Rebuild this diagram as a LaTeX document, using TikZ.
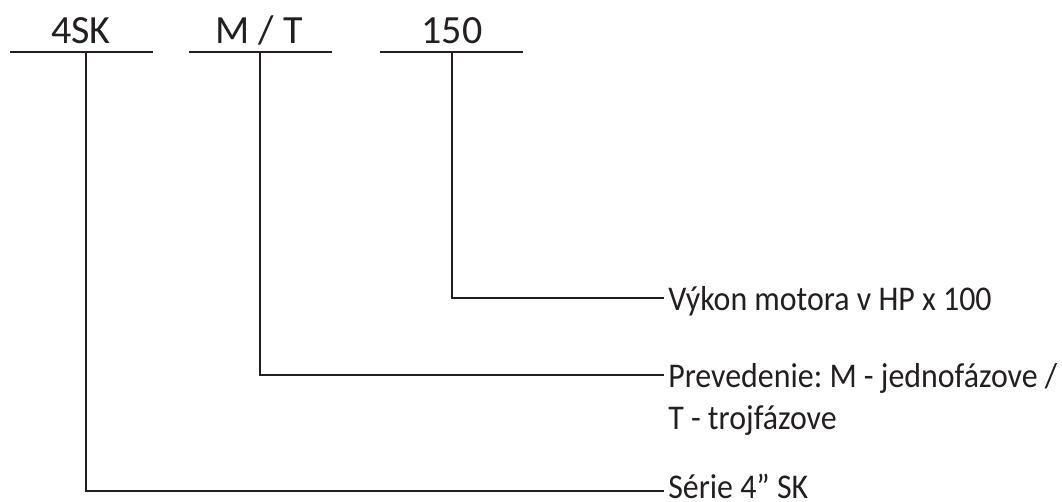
\documentclass[tikz,border=0pt]{standalone}
\usepackage{fontspec}
\setmainfont{Carlito}
\newfontfamily\descfont[FakeStretch=0.92]{Carlito}
\definecolor{ink}{HTML}{231F20}

\tikzset{
  code/.style={font=\fontsize{30}{36}\selectfont, text=ink, inner sep=0pt, anchor=base},
  desc/.style={font=\descfont\fontsize{26}{32}\selectfont\frenchspacing, text=ink, inner sep=0pt, anchor=base west, align=left},
  rule/.style={line width=1.9pt, draw=ink},
}

\begin{document}
\begin{tikzpicture}[x=0.75pt, y=-0.75pt]
	%%%%% START %%%%%
	\useasboundingbox (0, 0) rectangle (1062, 501);

	% type code
	\node[code] (sk) at (81, 43) {4SK};
	\node[code] (mt) at (259, 43) {M / T};
	\node[code] (hp) at (452, 43) {150};

	\coordinate (skL) at (10, 52);  \coordinate (skR) at (153, 52);
	\coordinate (mtL) at (189, 52); \coordinate (mtR) at (332, 52);
	\coordinate (hpL) at (380, 52); \coordinate (hpR) at (523, 52);
	\draw[rule] (skL) -- (skR);
	\draw[rule] (mtL) -- (mtR);
	\draw[rule] (hpL) -- (hpR);

	\coordinate (skT) at (86, 52);
	\coordinate (mtT) at (260, 52);
	\coordinate (hpT) at (452, 52);

	% meaning (base of a two-line node is its last line)
	\node[desc] (vykon) at (668, 310) {Výkon motora v HP x 100};
	\node[desc] (prev) at (668, 429.7) {Prevedenie: M - jednofázove /\\T - trojfázove};
	\node[desc] (serie) at (668, 498) {Série 4” SK};

	\draw[rule] (hpT) |- ([xshift=-3pt, yshift=9pt]vykon.base west);
	\draw[rule] (mtT) |- ([xshift=-3pt, yshift=41pt]prev.base west);
	\draw[rule] (skT) |- ([xshift=-3pt, yshift=5.25pt]serie.base west);
	%%%%% END %%%%%
\end{tikzpicture}
\end{document}
